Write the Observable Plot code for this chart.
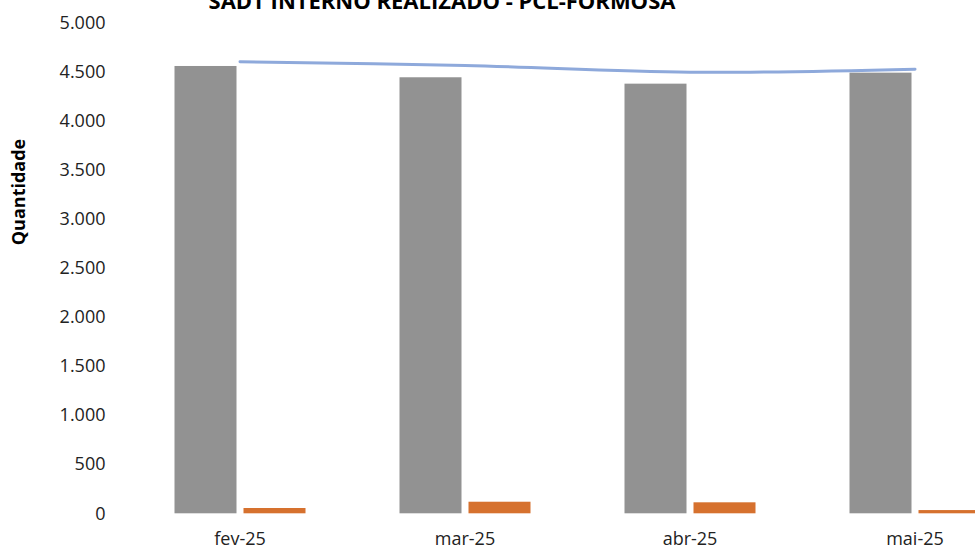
<!DOCTYPE html>
<html>
<head>
<meta charset="utf-8">
<script src="https://cdn.jsdelivr.net/npm/d3@7"></script>
<script src="https://cdn.jsdelivr.net/npm/@observablehq/plot@0.6"></script>
<style>
  html, body { margin: 0; padding: 0; background: #fff; }
  body { width: 975px; height: 549px; overflow: hidden; position: relative; font-family: "Open Sans", sans-serif; }
  #title { position: absolute; top: -11px; left: 442px; transform: translateX(-50%); white-space: nowrap;
           font: bold 22px/22px "Open Sans", sans-serif; color: #000; }
  #ylabel { position: absolute; left: 17.5px; top: 192px; transform: translate(-50%, -50%) rotate(-90deg);
            white-space: nowrap; font: bold 18px/18px "Open Sans", sans-serif; color: #000; }
  #chart { position: absolute; top: 0; left: 0; }
</style>
</head>
<body>
<div id="chart"></div>
<div id="title">SADT INTERNO REALIZADO - PCL-FORMOSA</div>
<div id="ylabel">Quantidade</div>
<script>
const months = ["fev-25", "mar-25", "abr-25", "mai-25"];
const realizado = [4557, 4442, 4377, 4489];
const outros = [54, 118, 112, 33];
const contratado = [4605, 4567, 4499, 4530];
const yTicks = [0, 500, 1000, 1500, 2000, 2500, 3000, 3500, 4000, 4500, 5000];

const rows = months.map((m, i) => ({month: m, realizado: realizado[i], outros: outros[i], contratado: contratado[i]}));
const fmt = d3.formatLocale({decimal: ",", thousands: ".", grouping: [3], currency: ["R$", ""]}).format(",d");

const chart = Plot.plot({
  width: 975,
  height: 549,
  marginLeft: 126,
  marginRight: 0,
  marginTop: 22.5,
  marginBottom: 35.7,
  style: {fontFamily: "Open Sans, sans-serif", fontSize: "18px", color: "#222", background: "white"},
  x: {domain: months, range: [126.5, 1026.5], padding: 0},
  y: {domain: [0, 5000]},
  marks: [
    Plot.barY(rows, {x: "month", y: "realizado", fill: "#929292", insetLeft: 47.5, insetRight: 115.5}),
    Plot.barY(rows, {x: "month", y: "outros", fill: "#D6712E", insetLeft: 116.5, insetRight: 46.5}),
    Plot.lineY(rows, {x: "month", y: "contratado", stroke: "#8EA9DB", strokeWidth: 3, curve: "catmull-rom"}),
    Plot.axisY({ticks: yTicks, tickFormat: fmt, tickSize: 0, tickPadding: 21, label: null}),
    Plot.axisX({tickSize: 0, tickPadding: 18.5, label: null})
  ]
});
document.getElementById("chart").appendChild(chart);
</script>
</body>
</html>
